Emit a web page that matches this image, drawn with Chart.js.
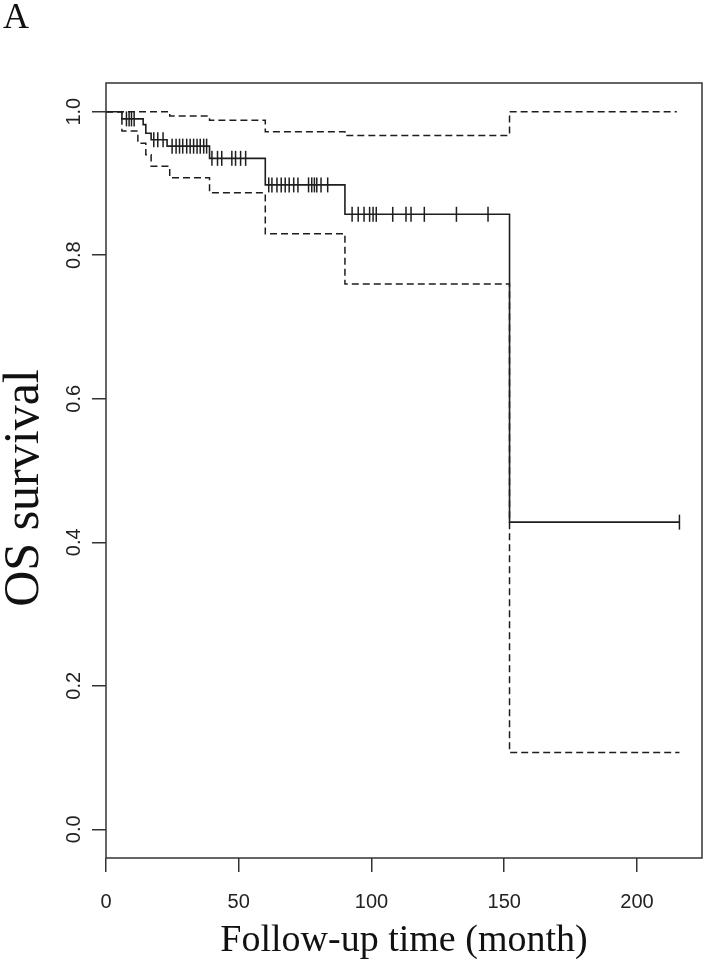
<!DOCTYPE html>
<html>
<head>
<meta charset="utf-8">
<script src="https://cdn.jsdelivr.net/npm/chart.js@4"></script>
<style>
html, body { margin: 0; padding: 0; background: #fff; }
canvas { display: block; }
</style>
</head>
<body>
<canvas id="grafico" width="711" height="973"></canvas>
<script>
// datos
var panelLabel = 'A';
var xTitle = 'Follow-up time (month)';
var yTitle = 'OS survival';
var xTicks = [0, 50, 100, 150, 200];
var yTicks = [0.0, 0.2, 0.4, 0.6, 0.8, 1.0];

// curva Kaplan-Meier (tiempo del escalon, valor despues del escalon)
var survTimes  = [0, 6, 14, 15, 17, 23, 39, 60, 90, 152, 216];
var survValues = [1.0, 0.990, 0.982, 0.970, 0.961, 0.952, 0.935, 0.898, 0.857, 0.428, 0.428];

// intervalo de confianza
var upperTimes  = [0, 24, 39, 60, 90, 152, 215];
var upperValues = [1.0, 0.994, 0.988, 0.972, 0.967, 1.0, 1.0];
var lowerTimes  = [0, 6, 12, 15, 17, 24, 39, 60, 90, 152, 216];
var lowerValues = [1.0, 0.973, 0.956, 0.940, 0.924, 0.908, 0.887, 0.830, 0.760, 0.107, 0.107];

// censurados
var censorTimes = [7.7, 8.7, 9.6, 10.6,
    18, 19.5, 21.5,
    24.9, 26.4, 27.7, 28.9, 30.4, 31.7, 33, 34.3, 35.5, 36.8, 37.9,
    39.9, 42, 43.6, 47.4, 48.8, 50.7, 52.6,
    61.3, 62.5, 64.4, 66, 67.5, 69, 70.7, 72.3, 76.3, 77.5, 78.5, 79.4, 81, 83.5,
    92.7, 95, 97.2, 99.3, 100.6, 101.8, 108, 113, 114.9, 119.9, 132, 143.9,
    216];

function puntos(ts, vs) {
    return ts.map(function (t, i) { return {x: t, y: vs[i]}; });
}

function survAt(t) {
    var s = survValues[0];
    for (var i = 0; i < survTimes.length; i++) {
        if (survTimes[i] <= t) s = survValues[i];
    }
    return s;
}

var tinta = '#1e1e1e';

var marco = {
    id: 'marco',
    afterDraw: function (chart) {
        var ctx = chart.ctx;
        var a = chart.chartArea;
        ctx.save();
        ctx.strokeStyle = '#333';
        ctx.lineWidth = 1.5;
        ctx.strokeRect(a.left, a.top, a.right - a.left, a.bottom - a.top);

        // etiquetas del eje y giradas, como en R
        var ys = chart.scales.y;
        ctx.fillStyle = '#222';
        ctx.font = '20px "Liberation Sans"';
        ctx.textAlign = 'center';
        ctx.textBaseline = 'middle';
        yTicks.forEach(function (v) {
            ctx.save();
            ctx.translate(74, ys.getPixelForValue(v));
            ctx.rotate(-Math.PI / 2);
            ctx.fillText(v.toFixed(1), 0, 0);
            ctx.restore();
        });

        // titulo del eje y
        ctx.save();
        ctx.fillStyle = '#111';
        ctx.font = '50px "Liberation Serif"';
        ctx.translate(25, 488);
        ctx.rotate(-Math.PI / 2);
        ctx.fillText(yTitle, 0, 0);
        ctx.restore();

        ctx.font = '36px "Liberation Serif"';
        ctx.textAlign = 'left';
        ctx.textBaseline = 'alphabetic';
        ctx.fillStyle = '#111';
        ctx.fillText(panelLabel, 3, 28);
        ctx.restore();
    }
};

var ctx = document.getElementById('grafico');
var mychart = new Chart(ctx, {
    type: 'scatter',
    data: {
        datasets: [
            {
                label: 'OS',
                data: puntos(survTimes, survValues),
                showLine: true,
                stepped: 'before',
                borderColor: tinta,
                borderWidth: 1.6,
                pointRadius: 0
            },
            {
                label: 'upper',
                data: puntos(upperTimes, upperValues),
                showLine: true,
                stepped: 'before',
                borderColor: tinta,
                borderWidth: 1.5,
                borderDash: [7, 4],
                pointRadius: 0
            },
            {
                label: 'lower',
                data: puntos(lowerTimes, lowerValues),
                showLine: true,
                stepped: 'before',
                borderColor: tinta,
                borderWidth: 1.5,
                borderDash: [7, 4],
                pointRadius: 0
            },
            {
                label: 'censor',
                data: censorTimes.map(function (t) { return {x: t, y: survAt(t)}; }),
                showLine: false,
                pointStyle: 'line',
                rotation: 90,
                pointRadius: 7.5,
                borderColor: tinta,
                borderWidth: 1.5
            }
        ]
    },
    options: {
        responsive: false,
        animation: false,
        devicePixelRatio: 1,
        layout: { padding: { top: 83, right: 5, left: 0, bottom: 0 } },
        plugins: {
            legend: { display: false },
            tooltip: { enabled: false }
        },
        scales: {
            x: {
                type: 'linear',
                min: 0,
                max: 224.5,
                afterBuildTicks: function (s) { s.ticks = xTicks.map(function (v) { return {value: v}; }); },
                afterFit: function (s) { s.height = 115; },
                grid: { display: true, drawOnChartArea: false, drawTicks: true, tickLength: 14, color: '#333', lineWidth: 1.5 },
                border: { display: false },
                ticks: { font: { family: 'Liberation Sans', size: 20 }, color: '#222', padding: 18, maxRotation: 0, autoSkip: false },
                title: { display: true, text: xTitle, font: { family: 'Liberation Serif', size: 38 }, color: '#111', padding: { top: 0, bottom: 9 } }
            },
            y: {
                type: 'linear',
                min: -0.04,
                max: 1.04,
                afterBuildTicks: function (s) { s.ticks = yTicks.map(function (v) { return {value: v}; }); },
                afterFit: function (s) { s.width = 106; },
                grid: { display: true, drawOnChartArea: false, drawTicks: true, tickLength: 14, color: '#333', lineWidth: 1.5 },
                border: { display: false },
                ticks: { display: false },
                title: { display: false, text: yTitle }
            }
        }
    },
    plugins: [marco]
});
</script>
</body>
</html>
